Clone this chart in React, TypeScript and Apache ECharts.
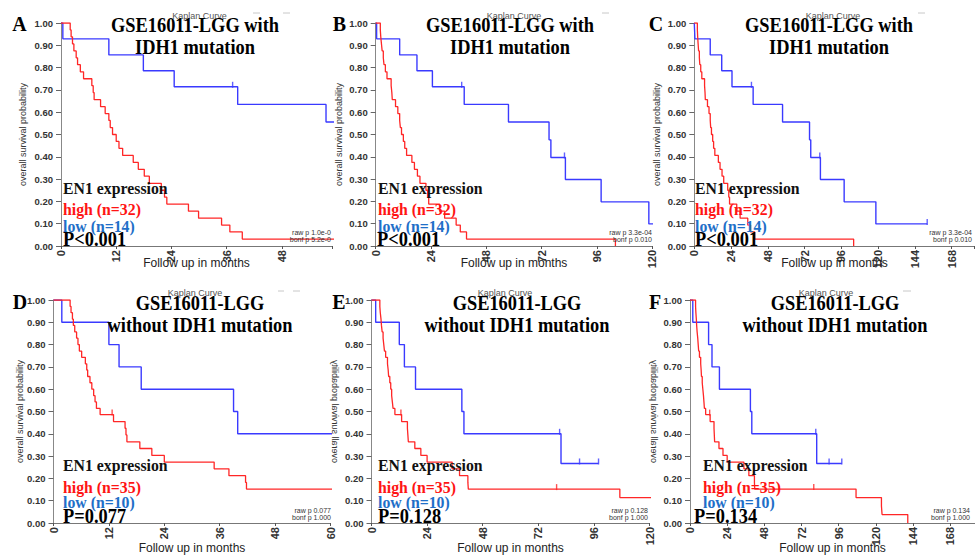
import React, { useEffect, useRef } from 'react';
import * as echarts from 'echarts';

// ---------- DATA: IDH1-mutant cohort (panels A, B, C) ----------
const idhHighTime = [0, 2.0, 2.2, 2.5, 2.8, 3.3, 3.6, 4.2, 4.9, 6.7, 7.0, 7.2, 8.6, 9.6, 10.4, 10.7, 11.2, 12.0, 12.6, 13.4, 15.7, 16.8, 18.1, 19.2, 21.8, 22.5, 23.0, 27.7, 29.9, 34.9, 36.7, 39.4, 104];
const idhHighSurv = [1.0, 0.969, 0.938, 0.906, 0.875, 0.844, 0.813, 0.781, 0.75, 0.719, 0.688, 0.656, 0.625, 0.594, 0.563, 0.531, 0.5, 0.469, 0.438, 0.406, 0.375, 0.344, 0.313, 0.281, 0.25, 0.219, 0.188, 0.156, 0.125, 0.094, 0.063, 0.031, 0.0];
const idhLowTime = [0, 0.4, 10.4, 17.9, 24.6, 38.4, 57.6, 75.2, 76.0, 82.3, 97.8, 118.5, 152];
const idhLowSurv = [1.0, 0.929, 0.857, 0.786, 0.714, 0.635, 0.556, 0.476, 0.397, 0.298, 0.198, 0.099, 0.099];
const idhLowCensorTime = [37.3, 81.9, 152];
const idhLowCensorSurv = [0.714, 0.397, 0.099];

// ---------- DATA: IDH1-wildtype cohort (panels D, E, F) ----------
const wtHighTime = [0, 3.6, 3.8, 4.1, 4.3, 4.6, 5.0, 5.3, 5.6, 6.1, 6.9, 7.2, 7.4, 7.9, 8.3, 8.7, 9.0, 9.3, 10.1, 13.0, 15.5, 15.7, 15.9, 18.7, 21.3, 24.0, 34.8, 38.0, 41.6, 41.8, 107.2, 123.6, 124.0, 140.6];
const wtHighSurv = [1.0, 0.971, 0.943, 0.914, 0.886, 0.857, 0.829, 0.8, 0.771, 0.743, 0.714, 0.686, 0.657, 0.629, 0.6, 0.571, 0.543, 0.514, 0.486, 0.455, 0.425, 0.395, 0.364, 0.334, 0.303, 0.273, 0.243, 0.212, 0.182, 0.152, 0.114, 0.076, 0.038, 0.0];
const wtHighCensorTime = [12.7, 79.9];
const wtHighCensorSurv = [0.486, 0.152];
const wtLowTime = [0, 1.8, 12.0, 14.2, 19.0, 39.0, 39.9, 81.8, 98.0];
const wtLowSurv = [1.0, 0.9, 0.8, 0.7, 0.6, 0.5, 0.4, 0.267, 0.267];
const wtLowCensorTime = [81.2, 89.8, 98.0];
const wtLowCensorSurv = [0.4, 0.267, 0.267];

// ---------- TEXT ----------
const panelLetters = ['A', 'B', 'C', 'D', 'E', 'F'];
const titleLine1 = ['GSE16011-LGG with', 'GSE16011-LGG with', 'GSE16011-LGG with', 'GSE16011-LGG', 'GSE16011-LGG', 'GSE16011-LGG'];
const titleLine2 = ['IDH1 mutation', 'IDH1 mutation', 'IDH1 mutation', 'without IDH1 mutation', 'without IDH1 mutation', 'without IDH1 mutation'];
const highLabels = ['high (n=32)', 'high (n=32)', 'high (n=32)', 'high (n=35)', 'high (n=35)', 'high (n=35)'];
const lowLabels = ['low (n=14)', 'low (n=14)', 'low (n=14)', 'low (n=10)', 'low (n=10)', 'low (n=10)'];
const pLabels = ['P<0.001', 'P<0.001', 'P<0.001', 'P=0.077', 'P=0.128', 'P=0.134'];
const rawPLabels = ['raw p 1.0e-0', 'raw p 3.3e-04', 'raw p 3.3e-04', 'raw p 0.077', 'raw p 0.128', 'raw p 0.134'];
const bonfPLabels = ['bonf p 5.2e-0', 'bonf p 0.010', 'bonf p 0.010', 'bonf p 1.000', 'bonf p 1.000', 'bonf p 1.000'];
const xMaxes = [58.9, 120, 183, 60, 120, 184];
const xIntervals = [12, 24, 24, 12, 24, 24];
const mirroredYTitle = [false, false, false, false, true, true];

// ---------- LAYOUT (pixels) ----------
const layout = [
  { left: 61, top: 23, width: 271, letterX: 19.5, titleX: 195, legendX: 63, pX: 63, yTitleX: 22.7, kaplanX: 199.5, rawRight: 331 },
  { left: 375.7, top: 23, width: 276.6, letterX: 339.5, titleX: 510, legendX: 378, pX: 377, yTitleX: 339, kaplanX: 514, rawRight: 652 },
  { left: 694.3, top: 23, width: 280.4, letterX: 656, titleX: 829, legendX: 695, pX: 695, yTitleX: 657, kaplanX: 833, rawRight: 972 },
  { left: 53.5, top: 300, width: 277, letterX: 20, titleX: 200, legendX: 63, pX: 63, yTitleX: 19.5, kaplanX: 195, rawRight: 331 },
  { left: 371.5, top: 300, width: 278, letterX: 339, titleX: 517, legendX: 378, pX: 378, yTitleX: 335, kaplanX: 505, rawRight: 648 },
  { left: 690, top: 300, width: 285, letterX: 655, titleX: 835, legendX: 703, pX: 694, yTitleX: 654, kaplanX: 826, rawRight: 970 },
];
const PLOT_H = 223;

const RED = '#ff2626';
const BLUE = '#3a3aff';
const LEG_RED = '#ff1414';
const LEG_BLUE = '#1f6fc8';
const SERIF = "'Liberation Serif', 'Times New Roman', serif";
const SANS = "'Liberation Sans', Arial, sans-serif";

function pairs(t: number[], s: number[]) {
  return t.map((v, i) => [v, s[i]]);
}

function txt(x: number, y: number, text: string, font: string, fill: string, align = 'center', extra: any = {}) {
  return {
    type: 'text',
    x,
    y,
    z: 100,
    silent: true,
    style: { text, font, fill, textAlign: align, textVerticalAlign: 'middle' },
    ...extra,
  };
}

function buildOption() {
  const grid: any[] = [];
  const xAxis: any[] = [];
  const yAxis: any[] = [];
  const series: any[] = [];
  const graphic: any[] = [];

  layout.forEach((L, i) => {
    grid.push({ left: L.left, top: L.top, width: L.width, height: PLOT_H, containLabel: false });
    const iv = xIntervals[i];
    xAxis.push({
      type: 'value',
      gridIndex: i,
      min: 0,
      max: xMaxes[i],
      interval: iv,
      splitLine: { show: false },
      axisLine: { show: true, onZero: false, lineStyle: { color: '#777', width: 1 } },
      axisTick: { show: true, length: 3, lineStyle: { color: '#555' } },
      axisLabel: {
        rotate: 90,
        margin: 4,
        fontSize: 11,
        fontWeight: 'bold',
        color: '#333',
        fontFamily: SANS,
        formatter: (v: number) => (Math.abs(v % iv) < 1e-9 ? String(v) : ''),
      },
    });
    yAxis.push({
      type: 'value',
      gridIndex: i,
      min: 0,
      max: 1,
      interval: 0.1,
      splitLine: { show: false },
      axisLine: { show: true, lineStyle: { color: '#888', width: 1 } },
      axisTick: { show: true, length: 5, lineStyle: { color: '#666' } },
      axisLabel: {
        margin: 8,
        fontSize: 9.5,
        fontWeight: 'bold',
        color: '#333',
        fontFamily: SANS,
        formatter: (v: number) => v.toFixed(2),
      },
    });

    const top = i < 3;
    const hiT = top ? idhHighTime : wtHighTime;
    const hiS = top ? idhHighSurv : wtHighSurv;
    const loT = top ? idhLowTime : wtLowTime;
    const loS = top ? idhLowSurv : wtLowSurv;
    const loCT = top ? idhLowCensorTime : wtLowCensorTime;
    const loCS = top ? idhLowCensorSurv : wtLowCensorSurv;

    series.push({
      type: 'line', xAxisIndex: i, yAxisIndex: i, step: 'end', showSymbol: false, symbol: 'none',
      data: pairs(loT, loS), lineStyle: { color: BLUE, width: 1.4 }, z: 3, clip: true,
    });
    series.push({
      type: 'line', xAxisIndex: i, yAxisIndex: i, step: 'end', showSymbol: false, symbol: 'none',
      data: pairs(hiT, hiS), lineStyle: { color: RED, width: 1.3 }, z: 4, clip: true,
    });
    series.push({
      type: 'scatter', xAxisIndex: i, yAxisIndex: i, symbol: 'rect', symbolSize: [1.4, 6], symbolOffset: [0, -2],
      data: pairs(loCT, loCS), itemStyle: { color: BLUE }, z: 5, clip: true,
    });
    if (!top) {
      series.push({
        type: 'scatter', xAxisIndex: i, yAxisIndex: i, symbol: 'rect', symbolSize: [1.4, 6], symbolOffset: [0, -2],
        data: pairs(wtHighCensorTime, wtHighCensorSurv), itemStyle: { color: RED }, z: 5, clip: true,
      });
    }

    // texts
    const plotCenterY = L.top + PLOT_H / 2;
    graphic.push(txt(L.kaplanX, top ? 15.5 : 292.5, 'Kaplan Curve', `9px ${SANS}`, '#555'));
    graphic.push(txt(L.letterX, top ? 24 : 302, panelLetters[i], `bold 21px ${SERIF}`, '#000', 'center', { scaleX: 0.95 }));
    graphic.push(txt(L.titleX, top ? 25 : 303, titleLine1[i], `bold 20px ${SERIF}`, '#000', 'center', { scaleX: 0.92 }));
    graphic.push(txt(L.titleX, top ? 47 : 325, titleLine2[i], `bold 20px ${SERIF}`, '#000', 'center', { scaleX: 0.92 }));
    graphic.push(txt(L.legendX, top ? 188.3 : 465.5, 'EN1 expression', `bold 17px ${SERIF}`, '#111', 'left', { scaleX: 0.93 }));
    graphic.push(txt(L.legendX, top ? 209 : 487.5, highLabels[i], `bold 17px ${SERIF}`, LEG_RED, 'left', { scaleX: 0.93 }));
    graphic.push(txt(L.legendX, top ? 226 : 502.5, lowLabels[i], `bold 17px ${SERIF}`, LEG_BLUE, 'left', { scaleX: 0.93 }));
    graphic.push(txt(L.pX, top ? 239 : 516.3, pLabels[i], `bold 20px ${SERIF}`, '#000', 'left', { scaleX: 0.92 }));
    graphic.push(txt(L.rawRight, top ? 232.5 : 510.3, rawPLabels[i], `7px ${SANS}`, '#333', 'right'));
    graphic.push(txt(L.rawRight, top ? 239.7 : 517.5, bonfPLabels[i], `7px ${SANS}`, '#333', 'right'));
    graphic.push(txt(L.left + L.width / 2, top ? 262.5 : 548, 'Follow up in months', `12px ${SANS}`, '#222'));
    graphic.push(
      txt(L.yTitleX, plotCenterY, 'overall survival probability', `9px ${SANS}`, '#333', 'center',
        mirroredYTitle[i] ? { rotation: Math.PI / 2, scaleY: -1 } : { rotation: Math.PI / 2 })
    );
  });

  // small grey header dashes
  const dashes = [
    [253, 260, 13], [283, 290, 13], [602, 609, 13], [918, 925, 13], [278, 284, 291], [293, 300, 291], [903, 911, 291],
  ];
  dashes.forEach(([x1, x2, y]) => {
    graphic.push({ type: 'line', z: 100, silent: true, shape: { x1, y1: y, x2, y2: y }, style: { stroke: '#c8c8c8', lineWidth: 1 } });
  });

  return {
    animation: false,
    backgroundColor: '#ffffff',
    grid,
    xAxis,
    yAxis,
    series,
    graphic: { elements: graphic },
  };
}

export default function App() {
  const ref = useRef<HTMLDivElement>(null);
  useEffect(() => {
    document.body.style.margin = '0';
    if (!ref.current) return;
    const chart = echarts.init(ref.current, undefined, { renderer: 'svg' });
    chart.setOption(buildOption() as any);
    return () => chart.dispose();
  }, []);
  return <div ref={ref} style={{ width: 975, height: 556 }} />;
}
